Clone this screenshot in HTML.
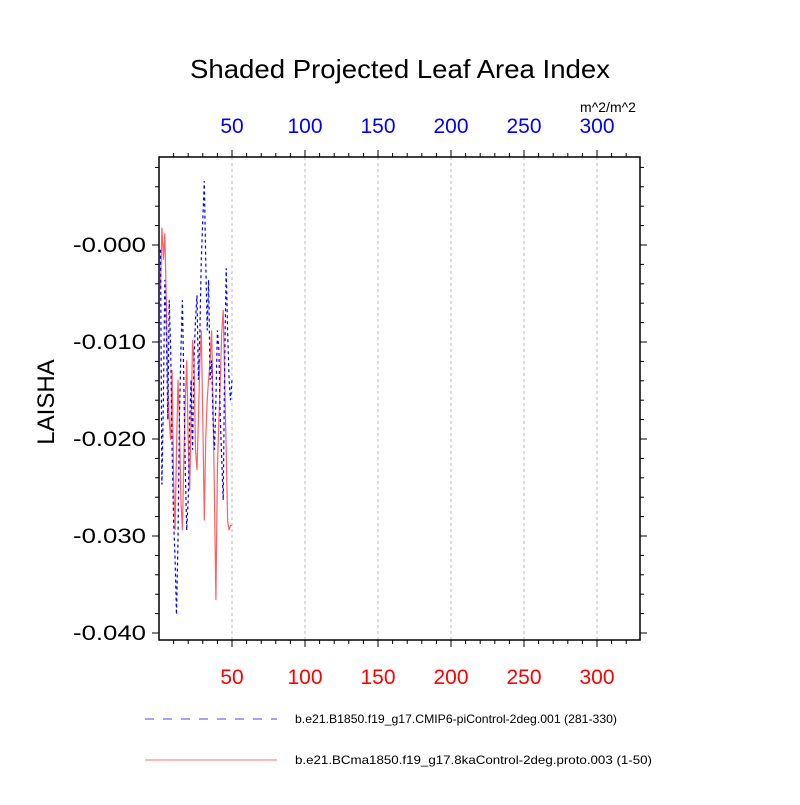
<!DOCTYPE html>
<html><head><meta charset="utf-8"><style>
body{margin:0;background:#fff;}
svg text{font-family:"Liberation Sans",sans-serif;}
</style></head><body>
<svg id="chart" width="800" height="800" viewBox="0 0 800 800">
<text x="400" y="78" font-size="26" text-anchor="middle" textLength="420" lengthAdjust="spacingAndGlyphs">Shaded Projected Leaf Area Index</text>
<text x="608" y="112" font-size="14" text-anchor="middle">m^2/m^2</text>
<text transform="translate(54,402) rotate(-90)" font-size="24" text-anchor="middle">LAISHA</text>
<g id="grid"></g><g id="series"></g><g id="axes"></g>
<g>
<line x1="145" y1="719" x2="277" y2="719" stroke="#4a4aff" stroke-width="1" stroke-dasharray="9,9"/>
<text x="295" y="723" font-size="12" textLength="322" lengthAdjust="spacingAndGlyphs">b.e21.B1850.f19_g17.CMIP6-piControl-2deg.001 (281-330)</text>
<line x1="145" y1="760" x2="277" y2="760" stroke="#ff7070" stroke-width="1"/>
<text x="295" y="764" font-size="12" textLength="357" lengthAdjust="spacingAndGlyphs">b.e21.BCma1850.f19_g17.8kaControl-2deg.proto.003 (1-50)</text>
</g>
</svg>
<script>
const xTicks=[50,100,150,200,250,300];
const yTicks=[0,-0.01,-0.02,-0.03,-0.04];
const yTickLabels=["-0.000","-0.010","-0.020","-0.030","-0.040"];
const blueVals=[-0.0005,-0.0247,-0.0160,-0.0036,-0.0088,-0.0180,-0.0057,-0.0108,-0.0211,-0.0284,-0.0325,-0.0381,-0.0304,-0.0180,-0.0108,-0.0057,-0.0139,-0.0232,-0.0294,-0.0263,-0.0180,-0.0139,-0.0211,-0.0119,-0.0077,-0.0052,-0.0139,-0.0088,-0.0015,0.0026,0.0066,-0.0015,-0.0088,-0.0036,-0.0139,-0.0119,-0.0180,-0.0211,-0.0160,-0.0088,-0.0108,-0.0180,-0.0222,-0.0263,-0.0119,-0.0024,-0.0088,-0.0139,-0.0160,-0.0139];
const redVals=[-0.0046,0.0018,-0.0015,0.0012,-0.0057,-0.0139,-0.0180,-0.0201,-0.0129,-0.0242,-0.0294,-0.0211,-0.0139,-0.0180,-0.0263,-0.0294,-0.0222,-0.0160,-0.0119,-0.0201,-0.0253,-0.0180,-0.0098,-0.0119,-0.0211,-0.0232,-0.0180,-0.0119,-0.0088,-0.0180,-0.0284,-0.0201,-0.0160,-0.0139,-0.0119,-0.0088,-0.0160,-0.0263,-0.0366,-0.0232,-0.0180,-0.0139,-0.0088,-0.0067,-0.0139,-0.0211,-0.0284,-0.0294,-0.0289,-0.0289];

const L=159,R=640,T=157,B=640;
const X=v=>L+v*1.46;
const Y=v=>245-v*9700;
const NS="http://www.w3.org/2000/svg";
function mk(tag,attrs,parent){const e=document.createElementNS(NS,tag);for(const k in attrs)e.setAttribute(k,attrs[k]);parent.appendChild(e);return e;}
const grid=document.getElementById('grid'),series=document.getElementById('series'),axes=document.getElementById('axes');
xTicks.forEach(t=>{
  const g=mk('line',{x1:X(t),x2:X(t),y1:T,y2:B,stroke:'#bbb','stroke-width':1,'stroke-dasharray':'3,3'},grid);
  
  
  const a=mk('text',{x:X(t),y:133,'font-size':21,fill:'#0000ff','text-anchor':'middle'},axes);a.textContent=t;
  
  
  const b=mk('text',{x:X(t),y:684,'font-size':21,fill:'#ff0000','text-anchor':'middle'},axes);b.textContent=t;
  
  
});
for(let v=10;X(v)<R;v+=10){
  const maj=v%50===0,len=maj?7:4;
  mk('line',{x1:X(v),x2:X(v),y1:B,y2:B+len,stroke:'#000'},axes);
  mk('line',{x1:X(v),x2:X(v),y1:T,y2:T-len,stroke:'#000'},axes);
}
for(let v=0.008;Y(v)<B;v-=0.002){
  const r=Math.round(v*1000);const maj=r%10===0,len=maj?7:4;
  if(Y(v)<T)continue;
  mk('line',{x1:L,x2:L-len,y1:Y(v),y2:Y(v),stroke:'#000'},axes);
  mk('line',{x1:R,x2:R+len,y1:Y(v),y2:Y(v),stroke:'#000'},axes);
}
yTicks.forEach((t,i)=>{
  const a=mk('text',{x:73,y:Y(t)+7,'font-size':21,textLength:73,lengthAdjust:'spacingAndGlyphs'},axes);a.textContent=yTickLabels[i];
  
  
});
const frame=mk('rect',{x:L,y:T,width:R-L,height:B-T,fill:'none',stroke:'#000','stroke-width':1.5},axes);


function line(vals,color,dash,name){
  const p=vals.map((v,i)=>X(i+1).toFixed(1)+','+Y(v).toFixed(1)).join(' ');
  const attrs={points:p,fill:'none',stroke:color,'stroke-width':1.2};
  if(dash)attrs['stroke-dasharray']=dash;
  const e=mk('polyline',attrs,series);
  
  
}
line(redVals,'#ff6060',null,'series-8ka-control');
line(blueVals,'#0000ff','3,3','series-picontrol');
</script>
</body></html>
